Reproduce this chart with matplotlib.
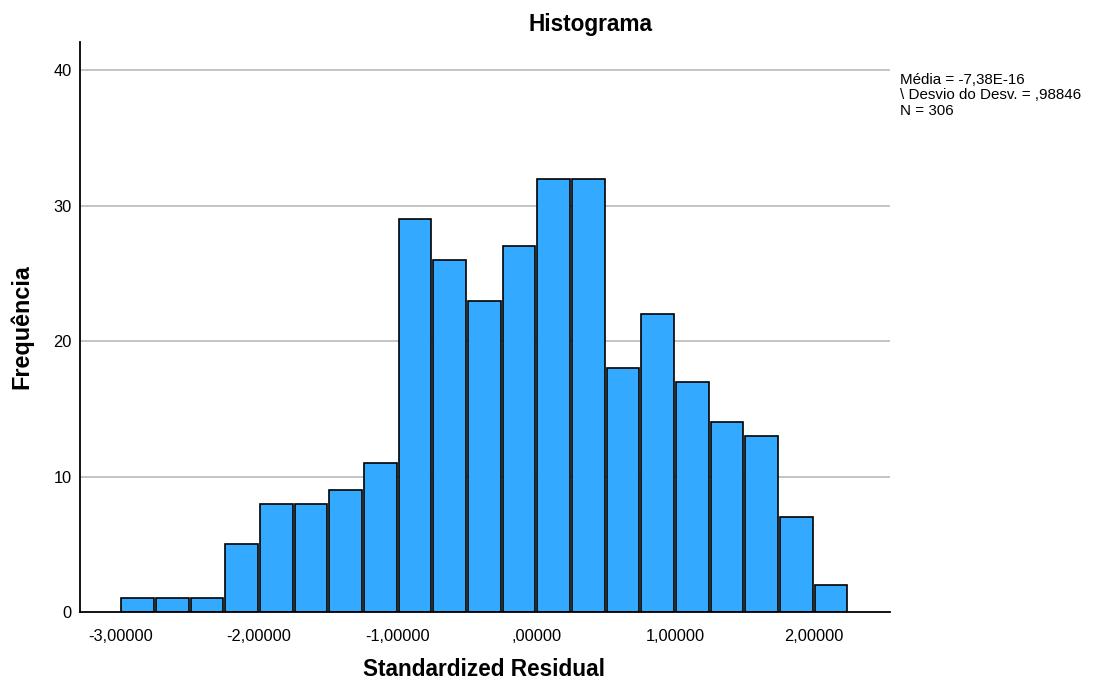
import numpy as np
import matplotlib
matplotlib.use("Agg")
from matplotlib import pyplot as plt

# histogram bins (left edges) and counts
bin_left = [-3.0, -2.75, -2.5, -2.25, -2.0, -1.75, -1.5, -1.25, -1.0, -0.75, -0.5,
            -0.25, 0.0, 0.25, 0.5, 0.75, 1.0, 1.25, 1.5, 1.75, 2.0]
counts = [1, 1, 1, 5, 8, 8, 9, 11, 29, 26, 23, 27, 32, 32, 18, 22, 17, 14, 13, 7, 2]
bin_width = 0.25

xticks = [-3, -2, -1, 0, 1, 2]
xtick_labels = ["-3,00000", "-2,00000", "-1,00000", ",00000", "1,00000", "2,00000"]
yticks = [0, 10, 20, 30, 40]

plt.rcParams['font.family'] = ['Liberation Sans', 'DejaVu Sans']

fig = plt.figure(figsize=(10.93, 6.82), dpi=100)
ax = fig.add_axes([80 / 1093, 0.1026, 810 / 1093, 0.8358])

for y in yticks[1:]:
    ax.axhline(y, color='#b4b4b4', lw=1.1, zorder=0)

ax.bar(np.array(bin_left) + bin_width / 2, counts, width=bin_width * 0.94,
       color='#33aaff', edgecolor='black', linewidth=1.2, zorder=2)

ax.set_xlim(-3.29, 2.55)
ax.set_ylim(0, 42.1)
ax.set_xticks(xticks)
ax.set_xticklabels(xtick_labels, fontsize=11.8)
ax.set_yticks(yticks)
ax.set_yticklabels([str(v) for v in yticks], fontsize=11.8)
ax.tick_params(axis='x', length=0, pad=12)
ax.tick_params(axis='y', length=0, pad=6)
ax.spines['top'].set_visible(False)
ax.spines['right'].set_visible(False)
ax.spines['left'].set_linewidth(1.3)
ax.spines['bottom'].set_linewidth(1.3)

fig.text(590 / 1093, 1 - 25 / 682, "Histograma", ha='center', va='center',
         fontsize=16.3, fontweight='bold')
fig.text(484 / 1093, 1 - 670 / 682, "Standardized Residual", ha='center', va='center',
         fontsize=16.3, fontweight='bold')
fig.text(22 / 1093, 1 - 327 / 682, "Frequência", ha='center', va='center',
         fontsize=16.8, fontweight='bold', rotation=90)
fig.text(900 / 1093, 1 - 73 / 682,
         "Média = -7,38E-16\n\\ Desvio do Desv. = ,98846\nN = 306",
         ha='left', va='top', fontsize=10.9, linespacing=1.12)

fig.savefig("out.png", dpi=100)
